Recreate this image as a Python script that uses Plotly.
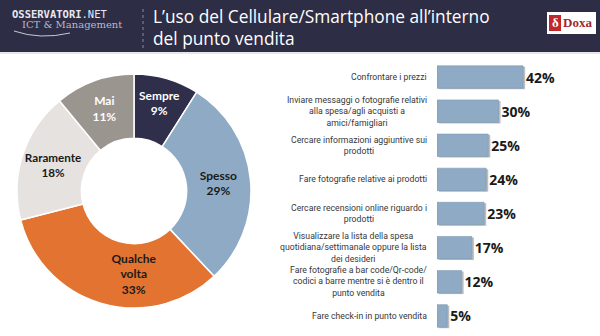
import plotly.graph_objects as go

W, H = 600, 336

# ---- data ----
pie_labels = ["Sempre", "Spesso", "Qualche<br>volta", "Raramente", "Mai"]
pie_values = [9, 29, 33, 18, 11]
pie_colors = ["#2f2f4b", "#8eaac4", "#e27330", "#e6e2df", "#9b9590"]
pie_text_colors = ["#ffffff", "#1a1a1a", "#1a1a1a", "#1a1a1a", "#ffffff"]

bar_categories = [
    "Confrontare i prezzi",
    "Inviare messaggi o fotografie relativi<br>alla spesa/agli acquisti a<br>amici/famigliari",
    "Cercare informazioni aggiuntive sui<br>prodotti",
    "Fare fotografie relative ai prodotti",
    "Cercare recensioni online riguardo i<br>prodotti",
    "Visualizzare la lista della spesa<br>quotidiana/settimanale oppure la lista<br>dei desideri",
    "Fare fotografie a bar code/Qr-code/<br>codici a barre mentre si è dentro il<br>punto vendita",
    "Fare check-in in punto vendita",
]
bar_values = [42, 30, 25, 24, 23, 17, 12, 5]

title_text = "L’uso del Cellulare/Smartphone all’interno<br>del punto vendita"

fig = go.Figure()

# ---- donut ----
fig.add_trace(go.Pie(
    labels=pie_labels, values=pie_values, sort=False, direction="clockwise",
    rotation=0, hole=0.45,
    marker=dict(colors=pie_colors, line=dict(color="#ffffff", width=1.5)),
    texttemplate="<b>%{label}<br>%{value}%</b>", textposition="inside",
    insidetextorientation="horizontal",
    textfont=dict(family="Lato", size=12, color=pie_text_colors),
    domain=dict(x=[17 / W, 251 / W], y=[(H - 308) / H, (H - 74) / H]),
    showlegend=False, hoverinfo="skip", automargin=False,
))

# ---- bars (shadow + main) ----
fig.add_trace(go.Bar(
    x=bar_values, y=bar_categories, orientation="h", base=1.0, offset=-0.30,
    width=0.66, marker=dict(color="rgba(90,90,90,0.4)", line=dict(width=0)),
    xaxis="x", yaxis="y", showlegend=False, hoverinfo="skip",
))
fig.add_trace(go.Bar(
    x=bar_values, y=bar_categories, orientation="h", width=0.66, offset=-0.33,
    marker=dict(color="#8eaac4", line=dict(color="#7d98b2", width=0.6)),
    texttemplate="<b>%{x}%</b>", textposition="outside", cliponaxis=False,
    textfont=dict(family="Open Sans", size=14, color="#1a1a1a"),
    xaxis="x", yaxis="y", showlegend=False, hoverinfo="skip",
))

annotations = []
for c in bar_categories:
    annotations.append(dict(
        x=429 / W, xref="paper", xanchor="right", y=c, yref="y", yanchor="middle",
        text=c, showarrow=False, align="center",
        font=dict(family="Roboto", size=8.7, color="#383838"),
    ))

# ---- header texts ----
annotations.append(dict(
    x=151 / W, y=1 - 3 / H, xref="paper", yref="paper", xanchor="left", yanchor="top",
    text=title_text, showarrow=False, align="left",
    font=dict(family="Open Sans", size=17.3, color="#ffffff"),
))
annotations.append(dict(
    x=10 / W, y=1 - 14 / H, xref="paper", yref="paper", xanchor="left", yanchor="middle",
    text="<b>OSSERVATORI</b>.NET", showarrow=False,
    font=dict(family="DejaVu Sans Mono", size=10.5, color="#e8e8f0"),
))
annotations.append(dict(
    x=20 / W, y=1 - 25 / H, xref="paper", yref="paper", xanchor="left", yanchor="middle",
    text="ICT &amp; Management", showarrow=False,
    font=dict(family="DejaVu Serif", size=10, color="#b8b8c8"),
))
annotations.append(dict(
    x=555 / W, y=1 - 23 / H, xref="paper", yref="paper", xanchor="center", yanchor="middle",
    text="<b>δ</b>", showarrow=False,
    font=dict(family="Liberation Serif", size=13, color="#ffffff"),
))
annotations.append(dict(
    x=561 / W, y=1 - 23 / H, xref="paper", yref="paper", xanchor="left", yanchor="middle",
    text="<b>Doxa</b>", showarrow=False,
    font=dict(family="Liberation Serif", size=13, color="#9e2a2b"),
))

shapes = [
    dict(type="rect", xref="paper", yref="paper", x0=0, x1=1, y0=1 - 52 / H, y1=1,
         fillcolor="#2d2d46", line=dict(width=0), layer="below"),
    dict(type="line", xref="paper", yref="paper", x0=0, x1=1, y0=1 - 53 / H, y1=1 - 53 / H,
         line=dict(color="#cfcfd6", width=1)),
    dict(type="line", xref="paper", yref="paper", x0=143 / W, x1=143 / W,
         y0=1 - 48 / H, y1=1 - 8 / H, line=dict(color="#8a8aa0", width=1, dash="dot")),
    dict(type="rect", xref="paper", yref="paper", x0=547 / W, x1=596 / W,
         y0=1 - 34 / H, y1=1 - 12 / H, fillcolor="#ffffff", line=dict(width=0)),
    dict(type="rect", xref="paper", yref="paper", x0=549 / W, x1=561 / W,
         y0=1 - 31 / H, y1=1 - 15 / H, fillcolor="#c0282c", line=dict(width=0)),
    dict(type="path", xref="paper", yref="paper",
         path=f"M {14/W},{1-31/H} Q {40/W},{1-40/H} {70/W},{1-33/H}",
         line=dict(color="#c8c8d6", width=1)),
]

fig.update_layout(
    width=W, height=H, margin=dict(l=0, r=0, t=0, b=0),
    paper_bgcolor="#ffffff", plot_bgcolor="rgba(0,0,0,0)",
    barmode="overlay", bargap=0.34,
    xaxis=dict(domain=[437 / W, 1], range=[0, 79.5], visible=False, fixedrange=True),
    yaxis=dict(domain=[(H - 333) / H, (H - 60) / H], autorange="reversed",
               showticklabels=False, showgrid=False, zeroline=False, ticks="",
               categoryorder="array", categoryarray=bar_categories),
    annotations=annotations, shapes=shapes,
)

fig.write_html("out.html")
